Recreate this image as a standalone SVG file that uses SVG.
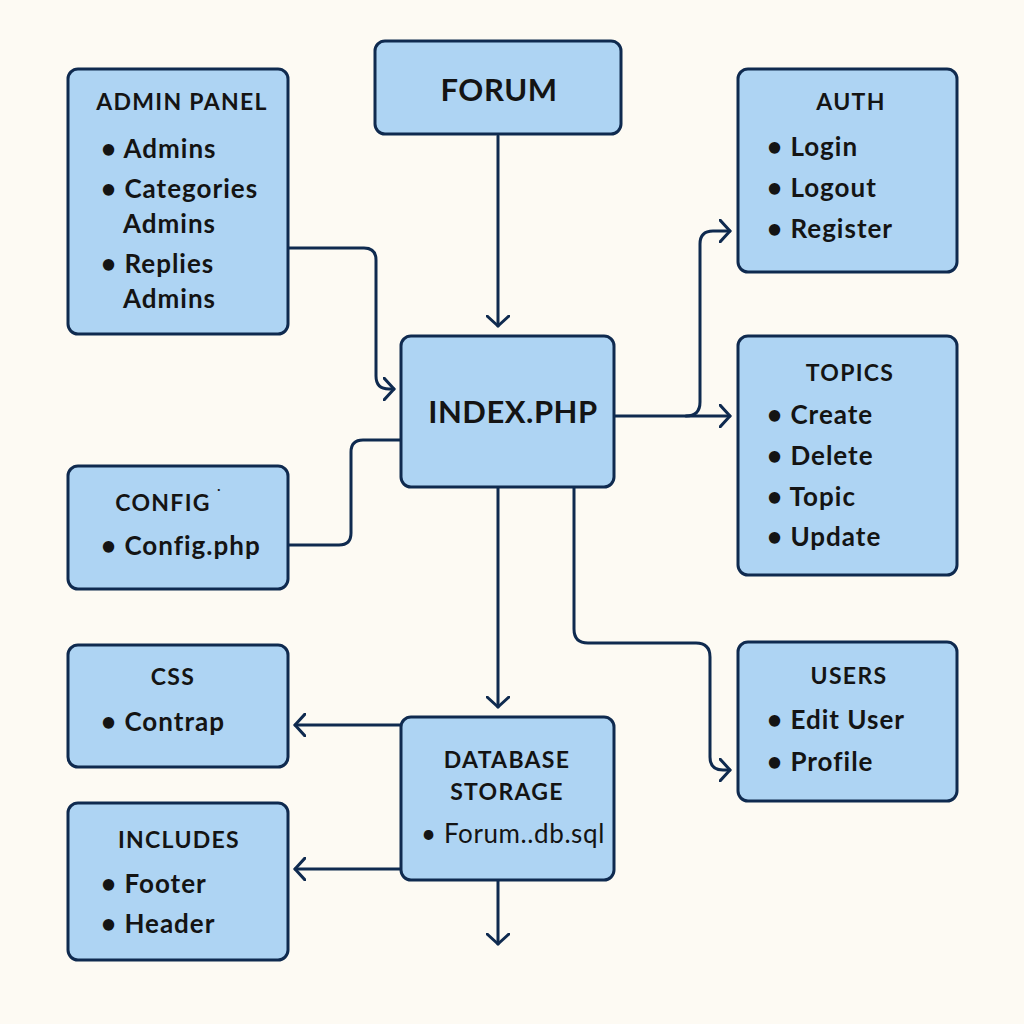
<svg xmlns="http://www.w3.org/2000/svg" width="1024" height="1024" viewBox="0 0 1024 1024">
<defs>
<marker id="arr" markerUnits="userSpaceOnUse" markerWidth="16" markerHeight="24" refX="11" refY="12" orient="auto">
<path d="M1,1 L11,12 L1,23" fill="none" stroke="#0f2a4f" stroke-width="3" stroke-linecap="round" stroke-linejoin="round"/>
</marker>
</defs>
<style>
.box{fill:#aed4f3;stroke:#0f2a4f;stroke-width:3}
.t{font-family:Lato,"Noto Sans","Liberation Sans",sans-serif;font-weight:bold;fill:#141414}
.h{font-size:23px;text-anchor:middle;letter-spacing:1.3px}
.big{font-size:31px;text-anchor:middle;letter-spacing:0.5px}
.i{font-size:26px;letter-spacing:1px}
.n{font-weight:normal;font-size:26px;letter-spacing:0.6px}
.c{fill:none;stroke:#0f2a4f;stroke-width:3;stroke-linecap:round;stroke-linejoin:round}
</style>
<rect width="1024" height="1024" fill="#fdfaf3"/>
<g id="connectors">
<path class="c" d="M498,136 L498,326" marker-end="url(#arr)"/>
<path class="c" d="M289,248 L364,248 Q376,248 376,260 L376,376 Q376,389 389,389 L394,389" marker-end="url(#arr)"/>
<path class="c" d="M289,545 L339,545 Q351,545 351,533 L351,452 Q351,440 363,440 L400,440"/>
<path class="c" d="M615,416 L730,416" marker-end="url(#arr)"/>
<path class="c" d="M686,416 Q700,416 700,402 L700,244 Q700,231 713,231 L730,231" marker-end="url(#arr)"/>
<path class="c" d="M574,488 L574,629 Q574,643 588,643 L696,643 Q710,643 710,657 L710,757 Q710,770 723,770 L730,770" marker-end="url(#arr)"/>
<path class="c" d="M498,488 L498,707" marker-end="url(#arr)"/>
<path class="c" d="M400,725 L295,725" marker-end="url(#arr)"/>
<path class="c" d="M400,869 L295,869" marker-end="url(#arr)"/>
<path class="c" d="M498,881 L498,944" marker-end="url(#arr)"/>
</g>
<g id="forum">
<rect class="box" x="375" y="41" width="246" height="93" rx="10"/>
<text class="t big" x="499" y="101">FORUM</text>
</g>
<g id="admin-panel">
<rect class="box" x="68" y="69" width="220" height="265" rx="10"/>
<text class="t h" x="182" y="110">ADMIN PANEL</text>
<text class="t i" x="101" y="158">• Admins</text>
<text class="t i" x="101" y="198">• Categories</text>
<text class="t i" x="123" y="233">Admins</text>
<text class="t i" x="101" y="273">• Replies</text>
<text class="t i" x="123" y="308">Admins</text>
</g>
<g id="auth">
<rect class="box" x="738" y="69" width="219" height="203" rx="10"/>
<text class="t h" x="851" y="110">AUTH</text>
<text class="t i" x="767" y="156">• Login</text>
<text class="t i" x="767" y="197">• Logout</text>
<text class="t i" x="767" y="238">• Register</text>
</g>
<g id="index">
<rect class="box" x="401" y="336" width="213" height="151" rx="10"/>
<text class="t big" x="513" y="423">INDEX.PHP</text>
</g>
<g id="topics">
<rect class="box" x="738" y="336" width="219" height="239" rx="10"/>
<text class="t h" x="850" y="381">TOPICS</text>
<text class="t i" x="767" y="424">• Create</text>
<text class="t i" x="767" y="465">• Delete</text>
<text class="t i" x="767" y="506">• Topic</text>
<text class="t i" x="767" y="546">• Update</text>
</g>
<g id="config">
<rect class="box" x="68" y="466" width="220" height="123" rx="10"/>
<text class="t h" x="163" y="511">CONFIG</text>
<text class="t" x="216" y="499" font-size="14">˙</text>
<text class="t i" x="101" y="555">• Config.php</text>
</g>
<g id="css">
<rect class="box" x="68" y="645" width="220" height="122" rx="10"/>
<text class="t h" x="173" y="685">CSS</text>
<text class="t i" x="101" y="731">• Contrap</text>
</g>
<g id="users">
<rect class="box" x="738" y="642" width="219" height="159" rx="10"/>
<text class="t h" x="849" y="684">USERS</text>
<text class="t i" x="767" y="729">• Edit User</text>
<text class="t i" x="767" y="771">• Profile</text>
</g>
<g id="database">
<rect class="box" x="401" y="717" width="213" height="163" rx="10"/>
<text class="t h" x="507" y="768">DATABASE</text>
<text class="t h" x="507" y="800">STORAGE</text>
<text class="t n" x="421" y="843">• Forum..db.sql</text>
</g>
<g id="includes">
<rect class="box" x="68" y="803" width="220" height="157" rx="10"/>
<text class="t h" x="179" y="848">INCLUDES</text>
<text class="t i" x="101" y="893">• Footer</text>
<text class="t i" x="101" y="933">• Header</text>
</g>
</svg>
